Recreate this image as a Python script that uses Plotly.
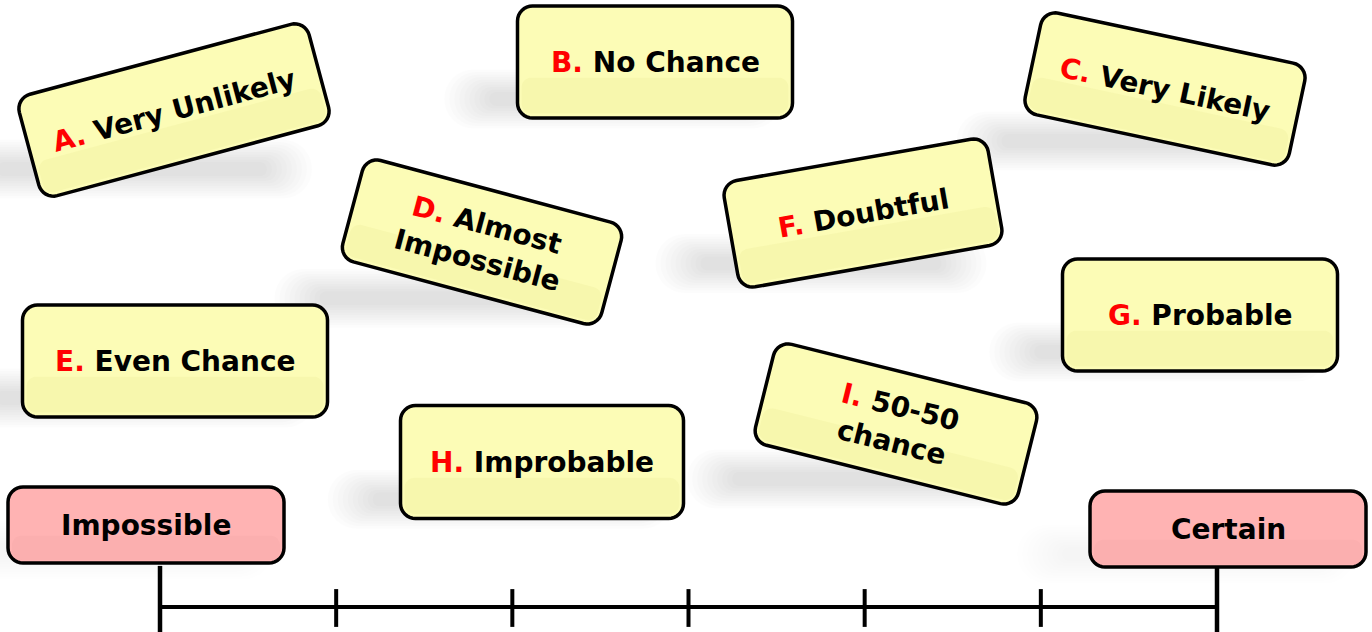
import math
import plotly.graph_objects as go

# ---------------- data ----------------
letters = ["A.", "B.", "C.", "D.", "E.", "F.", "G.", "H.", "I."]
labels = ["Very Unlikely", "No Chance", "Very Likely", "Almost<br>Impossible",
          "Even Chance", "Doubtful", "Probable", "Improbable", "50-50<br>chance"]
end_labels = ["Impossible", "Certain"]
scale_steps = [0, 1, 2, 3, 4, 5, 6]

# ---------------- layout (pixel placement of the cards) ----------------
W, H = 1372, 632
# (cx, cy, w, h, angle)  angle: positive = clockwise on screen
card_geom = [
    (174, 110, 300, 105, -15),
    (655, 62, 275, 112, 0),
    (1165, 89, 270, 104, 12),
    (482, 242, 268, 105, 15),
    (175, 361, 305, 112, 0),
    (863, 213, 268, 108, -10),
    (1200, 315, 275, 112, 0),
    (542, 462, 283, 113, 0),
    (896, 424, 271, 104, 14),
]
end_geom = [(146, 525, 276, 76, 0), (1228, 529, 276, 76, 0)]

YELLOW = "#FCFCB6"
PINK = "#FFB3B3"
FONT = "DejaVu Sans"
FS = 28


def rrect_path(cx, cy, w, h, ang, r, ox=0.0, oy=0.0, n=8):
    a = math.radians(ang)
    ca, sa = math.cos(a), math.sin(a)
    pts = []
    corners = [(w / 2 - r, h / 2 - r, 0), (-w / 2 + r, h / 2 - r, 90),
               (-w / 2 + r, -h / 2 + r, 180), (w / 2 - r, -h / 2 + r, 270)]
    for (ccx, ccy, start) in corners:
        for k in range(n + 1):
            t = math.radians(start + 90 * k / n)
            pts.append((ccx + r * math.cos(t) + ox, ccy + r * math.sin(t) + oy))
    out = []
    for (x, y) in pts:
        X = cx + x * ca - y * sa
        Y = cy + x * sa + y * ca
        out.append(f"{X:.2f},{Y:.2f}")
    return "M" + " L".join(out) + " Z"


def bbox_h(w, h, ang):
    a = math.radians(abs(ang))
    return w * math.sin(a) + h * math.cos(a)


shadow_shapes = []
card_shapes = []
annotations = []


def add_card(geom, fill, text, shadow_scale=1.0):
    cx, cy, w, h, ang = geom
    # soft floor shadow (layered for a blur effect)
    bh = bbox_h(w, h, ang)
    sx, sy = cx - 42, cy + 0.33 * bh
    for i in range(10):
        grow = i * 5
        shadow_shapes.append(dict(type="path",
                                  path=rrect_path(sx, sy, w * 0.9 + grow * 2, 14 + grow, 0,
                                                  (14 + grow) / 2 - 0.5),
                                  fillcolor="#000000", line=dict(width=0),
                                  opacity=0.011 * shadow_scale, layer="above"))
    # card body
    card_shapes.append(dict(type="path", path=rrect_path(cx, cy, w, h, ang, 15),
                            fillcolor=fill, line=dict(color="black", width=3.5), layer="above"))
    # subtle darker band in lower part
    card_shapes.append(dict(type="path",
                            path=rrect_path(cx, cy, w - 8, h * 0.32, ang, 10, oy=h * 0.3),
                            fillcolor="#D8D870" if fill == YELLOW else "#E09090",
                            line=dict(width=0), opacity=0.12, layer="above"))
    annotations.append(dict(x=cx, y=cy, xref="x", yref="y", text=text,
                            showarrow=False, textangle=ang,
                            font=dict(family=FONT, size=FS, color="black"),
                            align="center"))


for (g, let, lab) in zip(card_geom, letters, labels):
    txt = f"<b><span style='color:#FF0000'>{let}</span> {lab}</b>"
    add_card(g, YELLOW, txt)

for (g, lab) in zip(end_geom, end_labels):
    add_card(g, PINK, f"<b>{lab}</b>", shadow_scale=0.4)

fig = go.Figure()

# number line on its own scale axis
fig.add_trace(go.Scatter(x=[scale_steps[0], scale_steps[-1]], y=[607, 607],
                         xaxis="x2", yaxis="y", mode="lines",
                         line=dict(color="black", width=4), cliponaxis=False,
                         hoverinfo="skip", showlegend=False))
ends = [scale_steps[0], scale_steps[-1]]
mids = scale_steps[1:-1]
fig.add_trace(go.Scatter(x=ends, y=[603] * len(ends), xaxis="x2", yaxis="y",
                         mode="markers", cliponaxis=False,
                         marker=dict(symbol="line-ns", size=53,
                                     line=dict(color="black", width=4.5)),
                         hoverinfo="skip", showlegend=False))
fig.add_trace(go.Scatter(x=mids, y=[608] * len(mids), xaxis="x2", yaxis="y",
                         mode="markers", cliponaxis=False,
                         marker=dict(symbol="line-ns", size=27,
                                     line=dict(color="black", width=4)),
                         hoverinfo="skip", showlegend=False))

fig.update_layout(
    width=W, height=H,
    margin=dict(l=0, r=0, t=0, b=0),
    paper_bgcolor="white", plot_bgcolor="rgba(0,0,0,0)",
    xaxis=dict(range=[0, W], visible=False, domain=[0, 1], fixedrange=True),
    yaxis=dict(range=[H, 0], visible=False, domain=[0, 1], fixedrange=True),
    xaxis2=dict(range=[scale_steps[0], scale_steps[-1]], visible=False,
                domain=[160 / W, 1217 / W], anchor="y", fixedrange=True),
    shapes=shadow_shapes + card_shapes,
    annotations=annotations,
    showlegend=False,
)

fig.write_html("out.html", config={"displayModeBar": False},
               post_script="document.body.style.margin='0px';document.body.style.overflow='hidden';")
